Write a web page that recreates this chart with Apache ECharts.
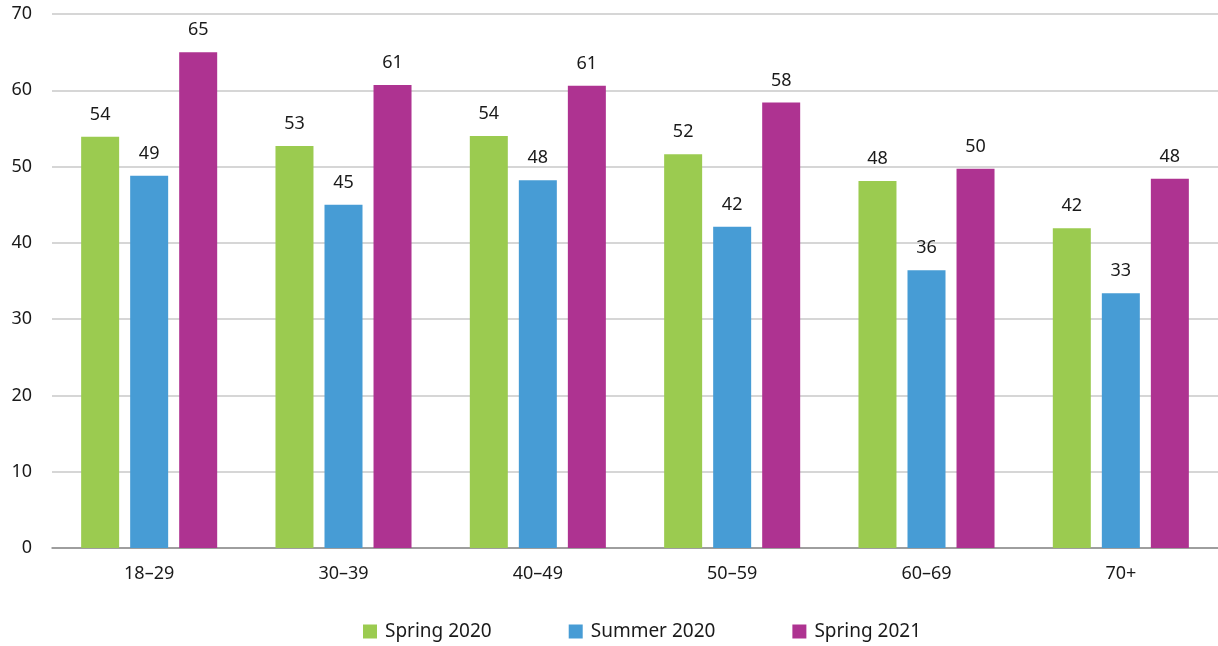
<!DOCTYPE html>
<html><head><meta charset="utf-8">
<script src="https://cdn.jsdelivr.net/npm/echarts@6/dist/echarts.min.js"></script>
<style>html,body{margin:0;padding:0;background:#fff}#c{width:1218px;height:646px}</style>
</head><body><div id="c"></div>
<script>
const categories = ['18–29','30–39','40–49','50–59','60–69','70+'];
const spring2020 = [53.9, 52.7, 54.0, 51.6, 48.1, 41.9];
const summer2020 = [48.8, 45.0, 48.2, 42.1, 36.4, 33.4];
const spring2021 = [65.0, 60.7, 60.6, 58.4, 49.7, 48.4];
const seriesNames = ['Spring 2020','Summer 2020','Spring 2021'];
const colors = ['#9BCB50','#479CD5','#AE3391'];
const font = 'Noto Sans';

const chart = echarts.init(document.getElementById('c'));
const mk = (name, data, color) => ({
  name, type: 'bar', data, barWidth: 38, barGap: '29%',
  itemStyle: {color},
  label: {show: true, position: 'top', distance: 13, color: '#1a1a1a', fontSize: 18, fontFamily: font,
    formatter: p => Math.round(p.value)}
});
chart.setOption({
  animation: false,
  grid: {left: 52, right: 0, top: 14, bottom: 98},
  legend: {top: 617, left: 358, itemWidth: 14, itemHeight: 14, itemGap: 77, icon: 'rect',
    textStyle: {fontSize: 19, fontFamily: font, color: '#1a1a1a', padding: [0, 0, 0, 3]}},
  xAxis: {type: 'category', data: categories,
    axisLine: {lineStyle: {color: '#8c8c8c', width: 1.5}}, axisTick: {show: false},
    axisLabel: {fontSize: 18, fontFamily: font, color: '#1a1a1a', margin: 17}},
  yAxis: {type: 'value', min: 0, max: 70, interval: 10,
    axisLine: {show: false}, axisTick: {show: false},
    splitLine: {lineStyle: {color: '#c8c8c8', width: 1.5}},
    axisLabel: {fontSize: 18, fontFamily: font, color: '#1a1a1a', margin: 20}},
  series: [mk(seriesNames[0], spring2020, colors[0]), mk(seriesNames[1], summer2020, colors[1]), mk(seriesNames[2], spring2021, colors[2])]
});
</script></body></html>
